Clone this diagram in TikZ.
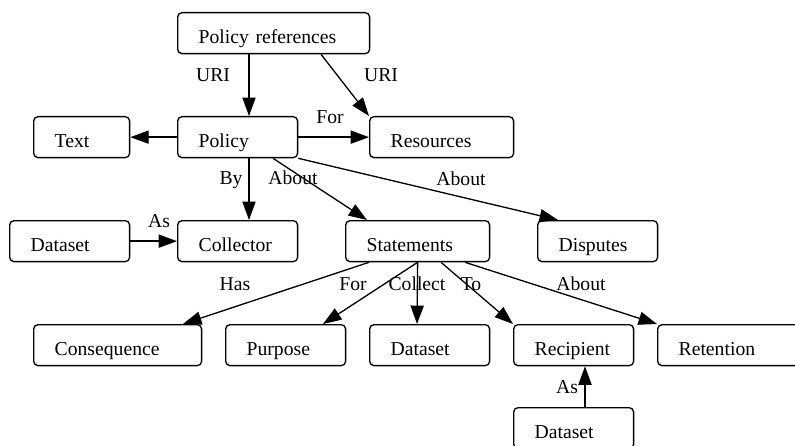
\documentclass[tikz,border=0pt]{standalone}
\usepackage{fontspec}
\setmainfont{Liberation Serif}
\usetikzlibrary{arrows.meta, calc}

\begin{document}
\begin{tikzpicture}[x=0.02cm, y=-0.02cm, line width=0.75pt,
    >={Triangle[length=10.5pt, width=7.5pt]},
    font=\fontsize{11.2}{13}\selectfont,
    entity/.style={draw, rounded corners=2.5pt, anchor=north west, inner xsep=0.42cm, inner ysep=0pt,
        text height=0.62cm, text depth=0.2cm, text width=#1, align=left},
    elabel/.style={anchor=base, inner sep=0pt}]
    \useasboundingbox (0,0) rectangle (795,446);

    \node[entity=3cm] (pref) at (177,12) {Policy references};
    \node[entity=1.08cm] (txt) at (33,116) {Text};
    \node[entity=1.56cm] (policy) at (177,116) {Policy};
    \node[entity=2.04cm] (res) at (369,116) {Resources};
    \node[entity=1.56cm] (collset) at (9,220) {Dataset};
    \node[entity=1.56cm] (collector) at (177,220) {Collector};
    \node[entity=2.04cm] (stmts) at (345,220) {Statements};
    \node[entity=1.56cm] (disputes) at (537,220) {Disputes};
    \node[entity=2.52cm] (conseq) at (33,324) {Consequence};
    \node[entity=1.56cm] (purpose) at (225,324) {Purpose};
    \node[entity=1.56cm] (stmtset) at (369,324) {Dataset};
    \node[entity=1.56cm] (recipient) at (513,324) {Recipient};
    \node[entity=2.04cm] (retention) at (657,324) {Retention};
    \node[entity=1.56cm] (recset) at (513,407) {Dataset};

    \draw[->] ($(pref.south west)+(72,0)$) -- ($(policy.north west)+(72,0)$) node[elabel] at (213,82) {URI};
    \draw[->] ($(pref.south west)+(144,0)$) -- (res.north west) node[elabel] at (381,82) {URI};
    \draw[->] (policy.west) -- (txt.east);
    \draw[->] (policy.east) -- (res.west) node[elabel] at (330,124) {For};
    \draw[->] ($(policy.south west)+(72,0)$) -- ($(collector.north west)+(72,0)$) node[elabel] at (231,185) {By};
    \draw[->] ($(policy.south west)+(96,0)$) -- ($(stmts.north west)+(22,0)$) node[elabel] at (293,185) {About};
    \draw[->] (policy.south east) -- ($(disputes.north west)+(21,0)$) node[elabel] at (461,186) {About};
    \draw[->] (collset.east) -- (collector.west) node[elabel] at (159,228) {As};
    \draw[->] ($(stmts.south west)+(24,0)$) -- ($(conseq.north west)+(150,0)$) node[elabel] at (235,290) {Has};
    \draw[->] (stmts.south) -- ($(purpose.north west)+(98,0)$) node[elabel] at (353,290) {For};
    \draw[->] (stmts.south) -- ($(stmtset.north west)+(48,0)$) node[elabel] at (417,290) {Collect};
    \draw[->] ($(stmts.south west)+(96,0)$) -- (recipient.north west) node[elabel] at (471,290) {To};
    \draw[->] ($(stmts.south west)+(120,0)$) -- (retention.north west) node[elabel] at (581,290) {About};
    \draw[->] ($(recset.north west)+(72,0)$) -- ($(recipient.south west)+(72,0)$) node[elabel] at (567,393) {As};
\end{tikzpicture}
\end{document}
